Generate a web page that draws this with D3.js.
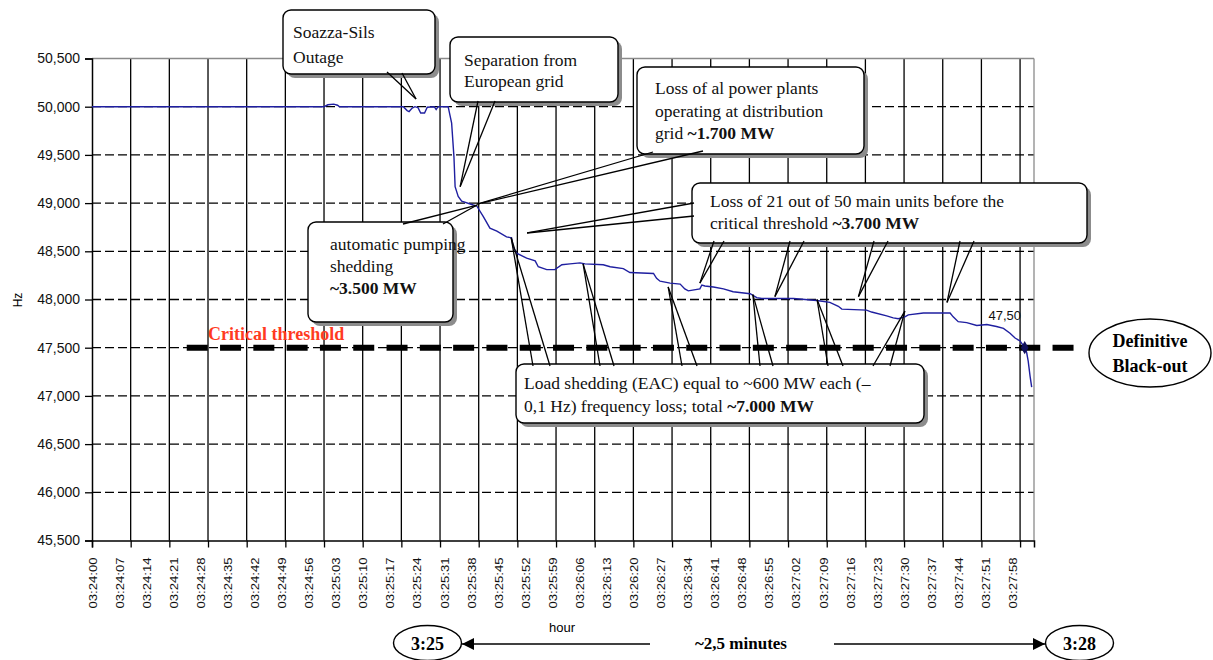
<!DOCTYPE html>
<html>
<head>
<meta charset="utf-8">
<script src="https://cdn.jsdelivr.net/npm/d3@7/dist/d3.min.js"></script>
<style>
  html, body { margin: 0; padding: 0; background: #fff; }
  svg { display: block; }
</style>
</head>
<body>
<svg id="chart" width="1213" height="660"></svg>
<script>
// ---------------- DATA ----------------
// seconds after 03:24:00
const times = [0, 60, 61, 62.5, 63.5, 64, 80.5, 81.5, 82, 82.8, 83.5, 84.3, 85, 86, 86.7, 88.5, 89, 89.5,
  92.1, 93.0, 93.6, 93.9, 94.7, 95.6, 98.6, 99.5, 101.2, 102.9, 104.7, 107.2, 108.5, 108.9, 109.8,
  112.4, 114.6, 115.4, 117.6, 119.7, 121.5, 123.6, 126.2, 127.5, 132.2, 134.0, 137.4, 139.1, 145.2,
  146.0, 146.9, 149.5, 152.1, 153.3, 154.2, 157.2, 157.7, 158.5, 160.7, 163.3, 165.8, 170.2, 171.9,
  173.2, 181.4, 187.4, 190.8, 193.0, 193.9, 200.3, 201.6, 205.5, 207.2, 208.5, 210.2, 211.1, 215.0,
  221.9, 222.7, 224.0, 226.2, 228.8, 231.4, 233.9, 235.7, 237.4, 238.7, 240.0, 241.2, 241.7, 242.1,
  242.6, 243.0];
// frequency, Hz
const freq = [50.000, 50.000, 50.020, 50.027, 50.015, 50.000, 50.000, 49.960, 49.950, 49.985, 50.000,
  49.990, 49.935, 49.935, 49.995, 50.000, 49.970, 50.000,
  50.000, 49.83, 49.48, 49.17, 49.07, 49.02, 48.98, 48.97, 48.86, 48.74, 48.71, 48.65, 48.64, 48.55, 48.48,
  48.43, 48.40, 48.34, 48.31, 48.31, 48.36, 48.37, 48.38, 48.37, 48.36, 48.34, 48.32, 48.28, 48.27,
  48.22, 48.19, 48.17, 48.16, 48.11, 48.09, 48.11, 48.15, 48.14, 48.13, 48.11, 48.08, 48.06, 48.02,
  48.01, 48.01, 47.99, 47.97, 47.93, 47.90, 47.89, 47.87, 47.83, 47.81, 47.80, 47.82, 47.84, 47.86,
  47.86, 47.82, 47.77, 47.76, 47.73, 47.74, 47.72, 47.70, 47.65, 47.60, 47.57, 47.50, 47.45, 47.36,
  47.20, 47.09];

const yTicks = [45.5, 46.0, 46.5, 47.0, 47.5, 48.0, 48.5, 49.0, 49.5, 50.0, 50.5];
const xLabelSecs = d3.range(0, 239, 7);          // labels every 7 s
const xGridSecs = d3.range(0, 241, 10);          // grid / ticks every 10 s
const threshold = 47.5;
const blackoutPoint = {t: 241.2, v: 47.50, label: "47,50"};

// ---------------- SETUP ----------------
const svg = d3.select("#chart");
const SANS = "'Liberation Sans', Arial, sans-serif";
const SERIF = "'Liberation Serif', 'Times New Roman', serif";

const x = d3.scaleLinear().domain([0, 243.6]).range([92, 1034]);
const y = d3.scaleLinear().domain([45.5, 50.5]).range([540.5, 58.5]);

const fmtY = d => d3.format(".3f")(d).replace(".", ",");
const fmtT = s => {
  const tot = 3 * 3600 + 24 * 60 + s;
  const hh = Math.floor(tot / 3600), mm = Math.floor((tot % 3600) / 60), ss = tot % 60;
  return [hh, mm, ss].map(v => String(v).padStart(2, "0")).join(":");
};

// ---------------- GRID ----------------
const grid = svg.append("g");
// horizontal dashed
grid.selectAll("line.h").data(yTicks.filter(v => v > 45.5 && v < 50.5)).join("line")
  .attr("x1", x(0)).attr("x2", x(243.6))
  .attr("y1", d => y(d)).attr("y2", d => y(d))
  .attr("stroke", "#000").attr("stroke-width", 1.3).attr("stroke-dasharray", "9,4");
// vertical solid
grid.selectAll("line.v").data(xGridSecs.filter(s => s > 0)).join("line")
  .attr("x1", d => x(d)).attr("x2", d => x(d))
  .attr("y1", y(50.5)).attr("y2", y(45.5))
  .attr("stroke", "#000").attr("stroke-width", 1.3);
// top & right border (grey)
svg.append("line").attr("x1", x(0)).attr("x2", x(243.6)).attr("y1", y(50.5)).attr("y2", y(50.5))
  .attr("stroke", "#8a8a8a").attr("stroke-width", 1.3);
svg.append("line").attr("x1", x(243.6)).attr("x2", x(243.6)).attr("y1", y(50.5)).attr("y2", y(45.5))
  .attr("stroke", "#8a8a8a").attr("stroke-width", 1.3);

// ---------------- AXES ----------------
const yAxis = svg.append("g").attr("transform", `translate(${x(0)},0)`)
  .call(d3.axisLeft(y).tickValues(yTicks).tickSize(7).tickPadding(5).tickFormat(fmtY));
yAxis.select(".domain").attr("stroke", "#000").attr("stroke-width", 1.5);
yAxis.selectAll(".tick line").attr("stroke", "#000").attr("stroke-width", 1.3);
yAxis.selectAll("text").attr("font-family", SANS).attr("font-size", 14).attr("fill", "#111");

const xTickAxis = svg.append("g").attr("transform", `translate(0,${y(45.5)})`)
  .call(d3.axisBottom(x).tickValues(xGridSecs).tickSize(7).tickFormat(""));
xTickAxis.select(".domain").attr("stroke", "#000").attr("stroke-width", 1.5);
xTickAxis.selectAll(".tick line").attr("stroke", "#000").attr("stroke-width", 1.3);

const xLabAxis = svg.append("g").attr("transform", `translate(0,${y(45.5)})`)
  .call(d3.axisBottom(x).tickValues(xLabelSecs).tickSize(0).tickFormat(fmtT));
xLabAxis.select(".domain").remove();
xLabAxis.selectAll("text")
  .attr("transform", "rotate(-90)")
  .attr("x", -17).attr("y", 0).attr("dy", "0.36em")
  .attr("text-anchor", "end")
  .attr("font-family", SANS).attr("font-size", 11.5).attr("fill", "#111")
  .attr("textLength", 51).attr("lengthAdjust", "spacingAndGlyphs");

// axis titles
svg.append("text").attr("transform", "translate(22,300) rotate(-90)")
  .attr("text-anchor", "middle").attr("font-family", SANS).attr("font-size", 12).text("Hz");
svg.append("text").attr("x", 562).attr("y", 632).attr("text-anchor", "middle")
  .attr("font-family", SANS).attr("font-size", 13).text("hour");

// ---------------- CRITICAL THRESHOLD ----------------
svg.append("line").attr("x1", x(24.5)).attr("x2", x(255.5))
  .attr("y1", y(threshold)).attr("y2", y(threshold))
  .attr("stroke", "#000").attr("stroke-width", 6).attr("stroke-dasharray", "21,12.3");
svg.append("text").attr("x", 208).attr("y", 340)
  .attr("font-family", SERIF).attr("font-weight", "bold").attr("font-size", 18)
  .attr("fill", "#ff3b1f").text("Critical threshold");

// ---------------- DATA LINE ----------------
const pts = times.map((t, i) => [t, freq[i]]);
svg.append("path").datum(pts)
  .attr("d", d3.line().x(d => x(d[0])).y(d => y(d[1])))
  .attr("fill", "none").attr("stroke", "#1f1fa0").attr("stroke-width", 1.4);

svg.append("path")
  .attr("transform", `translate(${x(blackoutPoint.t)},${y(blackoutPoint.v)})`)
  .attr("d", d3.symbol(d3.symbolDiamond, 50)())
  .attr("fill", "#10105a");
svg.append("text").attr("x", x(blackoutPoint.t) - 20).attr("y", 320).attr("text-anchor", "middle")
  .attr("font-family", SANS).attr("font-size", 13).attr("fill", "#111").text(blackoutPoint.label);

// ---------------- CALLOUTS ----------------
const callouts = [
  { box: [283, 10, 152, 64], tx: 293, lines: [[["Soazza-Sils"]], [["Outage"]]], base: [38, 63],
    wedges: [{ b: [[387, 72], [402, 73]], tip: [83.8, 50.08] }] },
  { box: [450, 37, 168, 65], tx: 464, lines: [[["Separation from"]], [["European grid"]]], base: [66, 87],
    wedges: [{ b: [[478, 101], [495, 101]], tip: [95.2, 49.17] }] },
  { box: [637, 67, 227, 87], tx: 655,
    lines: [[["Loss of al power plants"]], [["operating at distribution"]], [["grid "], ["~1.700 MW", true]]],
    base: [94, 117, 139],
    wedges: [{ b: [[653, 152], [703, 151]], tip: [99.6, 48.99] }] },
  { box: [308, 222, 145, 100], tx: 330,
    lines: [[["automatic pumping"]], [["shedding"]], [["~3.500 MW", true]]], base: [250, 272, 294],
    wedges: [{ b: [[403, 224], [443, 224]], tip: [99.6, 48.98] }] },
  { box: [692, 183, 395, 60], tx: 710,
    lines: [[["Loss of 21 out of 50 main units before the"]], [["critical threshold "], ["~3.700 MW", true]]],
    base: [207, 229],
    wedges: [
      { b: [[694, 203], [694, 216]], tip: [112.5, 48.69] },
      { b: [[714, 241], [724, 241]], tip: [157.2, 48.17] },
      { b: [[790, 241], [804, 241]], tip: [176.6, 48.03] },
      { b: [[874, 241], [888, 241]], tip: [198.2, 48.03] },
      { b: [[960, 241], [974, 241]], tip: [221.1, 47.97] }] },
  { box: [516, 364, 408, 59], tx: 524,
    lines: [[["Load shedding (EAC) equal to ~600 MW each  (–"]], [["0,1 Hz) frequency loss; total "], ["~7.000 MW", true]]],
    base: [389, 412],
    wedges: [
      { b: [[533, 366], [550, 366]], tip: [108.4, 48.64] },
      { b: [[600, 366], [614, 366]], tip: [127.0, 48.37] },
      { b: [[682, 366], [697, 366]], tip: [149.0, 48.13] },
      { b: [[760, 366], [773, 366]], tip: [170.9, 48.05] },
      { b: [[828, 366], [843, 366]], tip: [187.5, 48.00] },
      { b: [[873, 366], [890, 366]], tip: [210.2, 47.88] }] }
];

const cg = svg.append("g");
callouts.forEach(c => {
  const [bx, by, bw, bh] = c.box;
  const g = cg.append("g");
  g.append("rect").attr("x", bx + 4).attr("y", by + 4).attr("width", bw).attr("height", bh)
    .attr("rx", 8).attr("fill", "#8c8c8c");
  g.append("rect").attr("x", bx).attr("y", by).attr("width", bw).attr("height", bh)
    .attr("rx", 8).attr("fill", "#fff").attr("stroke", "#000").attr("stroke-width", 1.4);
  c.wedges.forEach(w => {
    const tp = [x(w.tip[0]), y(w.tip[1])];
    w.b.forEach(b => {
      g.append("line").attr("x1", b[0]).attr("y1", b[1]).attr("x2", tp[0]).attr("y2", tp[1])
        .attr("stroke", "#000").attr("stroke-width", 1.3);
    });
  });
  c.lines.forEach((ln, i) => {
    const t = g.append("text").attr("x", c.tx).attr("y", c.base[i])
      .attr("font-family", SERIF).attr("font-size", 17.5).attr("fill", "#111");
    ln.forEach(seg => t.append("tspan").attr("font-weight", seg[1] ? "bold" : "normal").text(seg[0]));
  });
});

// ---------------- BLACK-OUT ELLIPSE ----------------
svg.append("ellipse").attr("cx", 1150).attr("cy", 353).attr("rx", 61).attr("ry", 34)
  .attr("fill", "#fff").attr("stroke", "#000").attr("stroke-width", 1.4);
svg.append("text").attr("x", 1150).attr("y", 347).attr("text-anchor", "middle")
  .attr("font-family", SERIF).attr("font-weight", "bold").attr("font-size", 18).text("Definitive");
svg.append("text").attr("x", 1150).attr("y", 372).attr("text-anchor", "middle")
  .attr("font-family", SERIF).attr("font-weight", "bold").attr("font-size", 18).text("Black-out");

// ---------------- TIME SPAN ARROWS ----------------
const defs = svg.append("defs");
defs.append("marker").attr("id", "ah").attr("viewBox", "0 0 10 10").attr("refX", 10).attr("refY", 5)
  .attr("markerWidth", 14).attr("markerHeight", 12).attr("markerUnits", "userSpaceOnUse")
  .attr("orient", "auto")
  .append("path").attr("d", "M0,0 L10,5 L0,10 Z").attr("fill", "#000");

svg.append("line").attr("x1", 650).attr("y1", 644).attr("x2", 462).attr("y2", 644)
  .attr("stroke", "#000").attr("stroke-width", 1.4).attr("marker-end", "url(#ah)");
svg.append("line").attr("x1", 834).attr("y1", 644).attr("x2", 1045).attr("y2", 644)
  .attr("stroke", "#000").attr("stroke-width", 1.4).attr("marker-end", "url(#ah)");
svg.append("text").attr("x", 741).attr("y", 649).attr("text-anchor", "middle")
  .attr("font-family", SERIF).attr("font-weight", "bold").attr("font-size", 17).text("~2,5 minutes");

[[427.5, "3:25"], [1079.5, "3:28"]].forEach(([cx, lab]) => {
  svg.append("ellipse").attr("cx", cx).attr("cy", 643).attr("rx", 34).attr("ry", 17.5)
    .attr("fill", "#fff").attr("stroke", "#000").attr("stroke-width", 1.4);
  svg.append("text").attr("x", cx).attr("y", 649.5).attr("text-anchor", "middle")
    .attr("font-family", SERIF).attr("font-weight", "bold").attr("font-size", 18).text(lab);
});
</script>
</body>
</html>
